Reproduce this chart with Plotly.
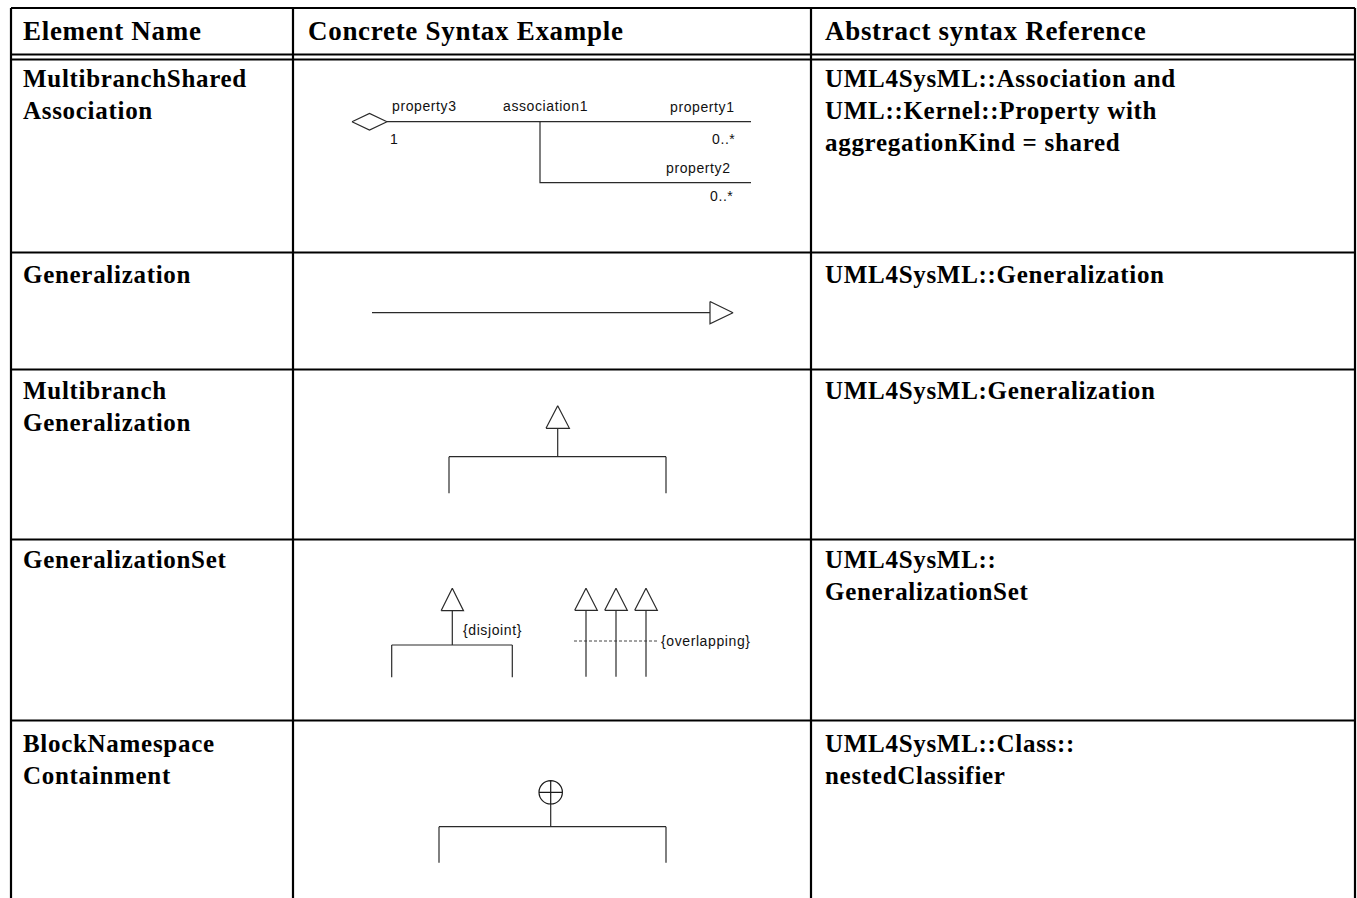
import plotly.graph_objects as go

W, H = 1357, 898

# ---------------- table geometry (pixel space of the page) ----------------
col_edges = [11, 293, 811, 1355]
row_edges = [8, 54.5, 59.5, 252.5, 369.5, 539.5, 720.5]
table_bottom = 900

headers = ["Element Name", "Concrete Syntax Example", "Abstract syntax Reference"]
header_x = [21, 306, 823]
header_y = 31

element_names = [
    ["MultibranchShared", "Association"],
    ["Generalization"],
    ["Multibranch", "Generalization"],
    ["GeneralizationSet"],
    ["BlockNamespace", "Containment"],
]
abstract_refs = [
    ["UML4SysML::Association and", "UML::Kernel::Property with", "aggregationKind = shared"],
    ["UML4SysML::Generalization"],
    ["UML4SysML:Generalization"],
    ["UML4SysML::", "GeneralizationSet"],
    ["UML4SysML::Class::", "nestedClassifier"],
]
name_x = 21
ref_x = 823
row_first_line_y = [78, 274, 390, 559, 743]
line_step = 32

# ---------------- diagram geometry ----------------
# Row 1: multibranch shared association
assoc_y = [121.7, 182.7]
assoc_x = [387, 751]
assoc_branch_x = 540
diamond_x = [352, 369.5, 387, 369.5, 352]
diamond_y = [121.7, 113.4, 121.7, 130.0, 121.7]
assoc_labels = [
    ("property3", 390, 105.5, "left"),
    ("association1", 501, 105.5, "left"),
    ("property1", 737, 106.5, "right"),
    ("1", 388, 138.5, "left"),
    ("0..*", 737, 139, "right"),
    ("property2", 733, 168, "right"),
    ("0..*", 735, 196, "right"),
]

# Row 2: generalization
gen_y = 312.7
gen_x = [372, 710]
gen_tip_x = 733
gen_half_h = 11.2

# Row 3: multibranch generalization
mb_cx, mb_apex, mb_base, mb_hw = 557.7, 405.7, 428.3, 11.7
mb_bar_y, mb_left, mb_right, mb_leg = 456.7, 449, 666, 493.3

# Row 4: generalization set
gs_cx, gs_apex, gs_base, gs_hw = 452.3, 588.3, 610.7, 11.2
gs_bar_y, gs_left, gs_right, gs_leg = 645, 391.7, 512.3, 677.3
ov_x = [586, 616, 646]
ov_apex, ov_base, ov_hw, ov_leg = 588.3, 610.3, 11.3, 676.7
ov_dash_y, ov_dash_x = 641, [574, 658]
gs_labels = [("{disjoint}", 460.5, 630, "left"), ("{overlapping}", 659, 641, "left")]

# Row 5: block namespace containment
ns_cx, ns_cy, ns_r = 550.7, 792.3, 11.7
ns_bar_y, ns_left, ns_right, ns_leg = 826.7, 439, 666, 862.7

# ---------------- figure ----------------
fig = go.Figure()
BORDER = dict(color="black", width=2.2)
DLINE = dict(color="#2a2a2a", width=1.2)


def seg(xs, ys, line, dash=None, fill=None):
    ln = dict(line)
    if dash:
        ln["dash"] = dash
    kw = {}
    if fill:
        kw = dict(fill="toself", fillcolor=fill)
    fig.add_trace(go.Scatter(x=xs, y=ys, mode="lines", line=ln, hoverinfo="skip",
                             showlegend=False, **kw))


# table borders
hx, hy = [], []
for y in row_edges:
    hx += [col_edges[0], col_edges[-1], None]
    hy += [y, y, None]
seg(hx, hy, BORDER)
vx, vy = [], []
for x in col_edges:
    vx += [x, x, None]
    vy += [row_edges[0], table_bottom, None]
seg(vx, vy, BORDER)


def tri_up(cx, apex, base, hw):
    seg([cx - hw, cx, cx + hw, cx - hw], [base, apex, base, base], DLINE, fill="white")


def bracket(cx, top, bar, left, right, leg):
    seg([cx, cx, None, left, right, None, left, left, None, right, right],
        [top, bar, None, bar, bar, None, bar, leg, None, bar, leg], DLINE)


# Row 1
seg([assoc_x[0], assoc_x[1], None, assoc_branch_x, assoc_branch_x, assoc_x[1]],
    [assoc_y[0], assoc_y[0], None, assoc_y[0], assoc_y[1], assoc_y[1]], DLINE)
seg(diamond_x, diamond_y, DLINE, fill="white")

# Row 2
seg(gen_x, [gen_y, gen_y], DLINE)
seg([gen_x[1], gen_tip_x, gen_x[1], gen_x[1]],
    [gen_y - gen_half_h, gen_y, gen_y + gen_half_h, gen_y - gen_half_h], DLINE, fill="white")

# Row 3
bracket(mb_cx, mb_base, mb_bar_y, mb_left, mb_right, mb_leg)
tri_up(mb_cx, mb_apex, mb_base, mb_hw)

# Row 4
bracket(gs_cx, gs_base, gs_bar_y, gs_left, gs_right, gs_leg)
tri_up(gs_cx, gs_apex, gs_base, gs_hw)
seg(ov_dash_x, [ov_dash_y, ov_dash_y], dict(color="#444", width=1), dash="3px,2px")
for x in ov_x:
    seg([x, x], [ov_base, ov_leg], DLINE)
    tri_up(x, ov_apex, ov_base, ov_hw)

# Row 5
bracket(ns_cx, ns_cy + ns_r, ns_bar_y, ns_left, ns_right, ns_leg)
fig.add_trace(go.Scatter(x=[ns_cx], y=[ns_cy], mode="markers", hoverinfo="skip", showlegend=False,
                         marker=dict(symbol="circle-cross-open", size=2 * ns_r, color="#1a1a1a",
                                     line=dict(width=1.2, color="#1a1a1a"))))

# ---------------- text ----------------
SERIF = dict(family="Liberation Serif, Times New Roman, serif", size=25, color="black", weight="bold")
HEAD = dict(SERIF, size=27)
SANS = dict(family="Liberation Sans, Arial, sans-serif", size=14, color="#111")
SP_SERIF = "letter-spacing:0.7px"
SP_SANS = "letter-spacing:0.6px"


def txt(s, x, y, font, anchor="left", sp=None):
    t = s if sp is None else f'<span style="{sp}">{s}</span>'
    fig.add_annotation(x=x, y=y, xref="x", yref="y", text=t, showarrow=False,
                       xanchor=anchor, yanchor="middle", font=font, align=anchor)


for h, x in zip(headers, header_x):
    txt(h, x, header_y, HEAD, sp=SP_SERIF)
for lines, y0 in zip(element_names, row_first_line_y):
    for i, s in enumerate(lines):
        txt(s, name_x, y0 + i * line_step, SERIF, sp=SP_SERIF)
for lines, y0 in zip(abstract_refs, row_first_line_y):
    for i, s in enumerate(lines):
        txt(s, ref_x, y0 + i * line_step, SERIF, sp=SP_SERIF)
for s, x, y, a in assoc_labels + gs_labels:
    txt(s, x, y, SANS, anchor=a, sp=SP_SANS)

fig.update_layout(
    width=W, height=H, margin=dict(l=0, r=0, t=0, b=0),
    paper_bgcolor="white", plot_bgcolor="white",
    xaxis=dict(range=[0, W], visible=False, fixedrange=True),
    yaxis=dict(range=[H, 0], visible=False, fixedrange=True),
    showlegend=False, hovermode=False,
)

# remove the default page margin so the figure fills the window exactly
fig.write_html("out.html",
               config={"displayModeBar": False, "staticPlot": True},
               post_script="document.body.style.margin='0';document.body.style.overflow='hidden';")
